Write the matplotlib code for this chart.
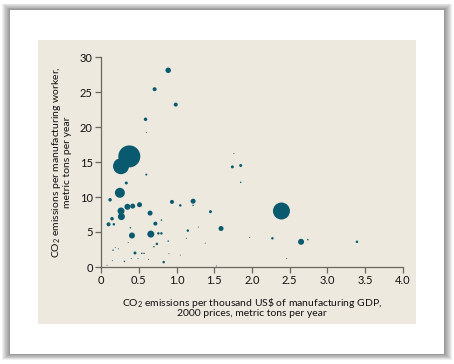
"""Bubble chart: CO2 per manufacturing worker vs CO2 per unit of manufacturing GDP."""

import matplotlib
matplotlib.use('Agg')
import matplotlib.pyplot as plt
from matplotlib.patches import Rectangle

plt.rcParams['font.family'] = ['Lato', 'DejaVu Sans']
plt.rcParams['mathtext.fontset'] = 'custom'
plt.rcParams['mathtext.rm'] = 'Lato'
plt.rcParams['mathtext.it'] = 'Lato'

# data (x: tons per thousand US$, y: tons per worker, bubble: relative size)
co2_per_gdp = [0.89, 0.71, 0.99, 0.59, 0.60, 0.375, 0.265, 1.76, 1.74, 1.85,
               1.85, 0.60, 0.335, 0.25, 0.12, 0.51, 0.35, 0.42, 0.265, 0.27,
               0.146, 0.10, 0.17, 0.65, 0.72, 0.80, 0.94, 1.05, 1.22, 1.22,
               1.45, 1.59, 1.15, 0.41, 0.66, 0.76, 0.80, 0.39, 0.45, 0.74,
               0.70, 0.89, 0.83, 0.16, 0.19, 0.23, 0.31, 0.54, 0.57, 0.63,
               0.49, 0.90, 1.05, 1.29, 1.13, 1.38, 1.53, 0.15, 0.08, 0.36,
               2.39, 2.27, 2.65, 2.74, 3.39, 1.97, 2.46, 0.40]
co2_per_worker = [28.1, 25.4, 23.2, 21.1, 19.2, 15.8, 14.4, 16.2, 14.3, 14.5,
                  12.1, 13.2, 12.0, 10.6, 9.6, 8.9, 8.6, 8.7, 8.0, 7.2,
                  6.9, 6.1, 6.1, 7.7, 6.2, 6.7, 9.3, 8.8, 9.4, 8.8,
                  7.9, 5.5, 5.2, 4.5, 4.7, 4.8, 4.8, 5.6, 2.0, 3.3,
                  2.9, 3.7, 0.7, 2.4, 2.8, 2.6, 0.8, 1.95, 1.95, 1.1,
                  1.2, 1.9, 1.7, 5.7, 4.1, 3.4, 0.15, 0.9, 0.25, 3.5,
                  8.0, 4.1, 3.6, 3.9, 3.6, 4.2, 1.2, 1.2]
bubble = [5.5, 4, 4, 3.5, 1, 22, 16, 1, 3, 3,
          1.5, 2, 3, 10, 3.5, 5, 6, 5, 7, 7,
          3.5, 4, 2.5, 5, 4, 1.5, 4, 2.5, 5, 1.5,
          3, 5, 2.5, 6, 7, 2.5, 2.5, 1.5, 3, 2.5,
          1.5, 1.5, 2.5, 1.5, 1, 1, 1.5, 1.5, 1.5, 1,
          1, 1, 1, 1, 1, 1, 1, 1, 1, 1,
          17, 2.5, 6, 1.5, 2.5, 1, 1, 1]

W, H = 454, 364
fig = plt.figure(figsize=(W / 100, H / 100), dpi=100, facecolor='white')

# card shadow
for i in range(8, 0, -1):
    fig.patches.append(Rectangle(((10 - i) / W, (10 - i * 0.7) / H),
                                 (434 + 2 * i) / W, (344 + 1.5 * i) / H,
                                 transform=fig.transFigure, facecolor='black',
                                 edgecolor='none', alpha=0.06, zorder=0))
fig.patches.append(Rectangle((10 / W, 10 / H), 434 / W, 344 / H,
                             transform=fig.transFigure, facecolor='white',
                             edgecolor='none', zorder=1))
# beige panel
fig.patches.append(Rectangle((38 / W, (H - 324) / H), 378 / W, 284 / H,
                             transform=fig.transFigure, facecolor='#ede9df',
                             edgecolor='none', zorder=2))

ax = fig.add_axes([101 / W, (H - 267) / H, 302 / W, 210 / H])
ax.set_facecolor('none')
ax.set_zorder(3)

sizes = [(b * 0.72) ** 2 for b in bubble]
ax.scatter(co2_per_gdp, co2_per_worker, s=sizes, color='#0a5a6f',
           edgecolors='none', clip_on=False, zorder=3)

ax.set_xlim(0, 4)
ax.set_ylim(0, 30)
ax.set_xticks([0, 0.5, 1, 1.5, 2, 2.5, 3, 3.5, 4])
ax.set_xticklabels(['0', '0.5', '1.0', '1.5', '2.0', '2.5', '3.0', '3.5', '4.0'])
ax.set_yticks([0, 5, 10, 15, 20, 25, 30])
for s in ['top', 'right']:
    ax.spines[s].set_visible(False)
for s in ['left', 'bottom']:
    ax.spines[s].set_color('#6b6660')
    ax.spines[s].set_linewidth(0.9)
ax.tick_params(direction='out', length=4, width=0.9, color='#6b6660',
               labelsize=8, labelcolor='#111111', pad=2)

# axis titles, one text per line so each line is centred
lab = dict(fontsize=7.5, color='#111111', ha='center', va='center', zorder=4)
fig.text(252 / W, 1 - 303 / H,
         'CO$_{2}$ emissions per thousand US\\$ of manufacturing GDP,', **lab)
fig.text(252 / W, 1 - 314 / H, '2000 prices, metric tons per year', **lab)
fig.text(57 / W, 1 - 162 / H, 'CO$_{2}$ emissions per manufacturing worker,',
         rotation=90, rotation_mode='anchor', **lab)
fig.text(68 / W, 1 - 162 / H, 'metric tons per year',
         rotation=90, rotation_mode='anchor', **lab)

fig.savefig('out.png', dpi=100, facecolor='white')
